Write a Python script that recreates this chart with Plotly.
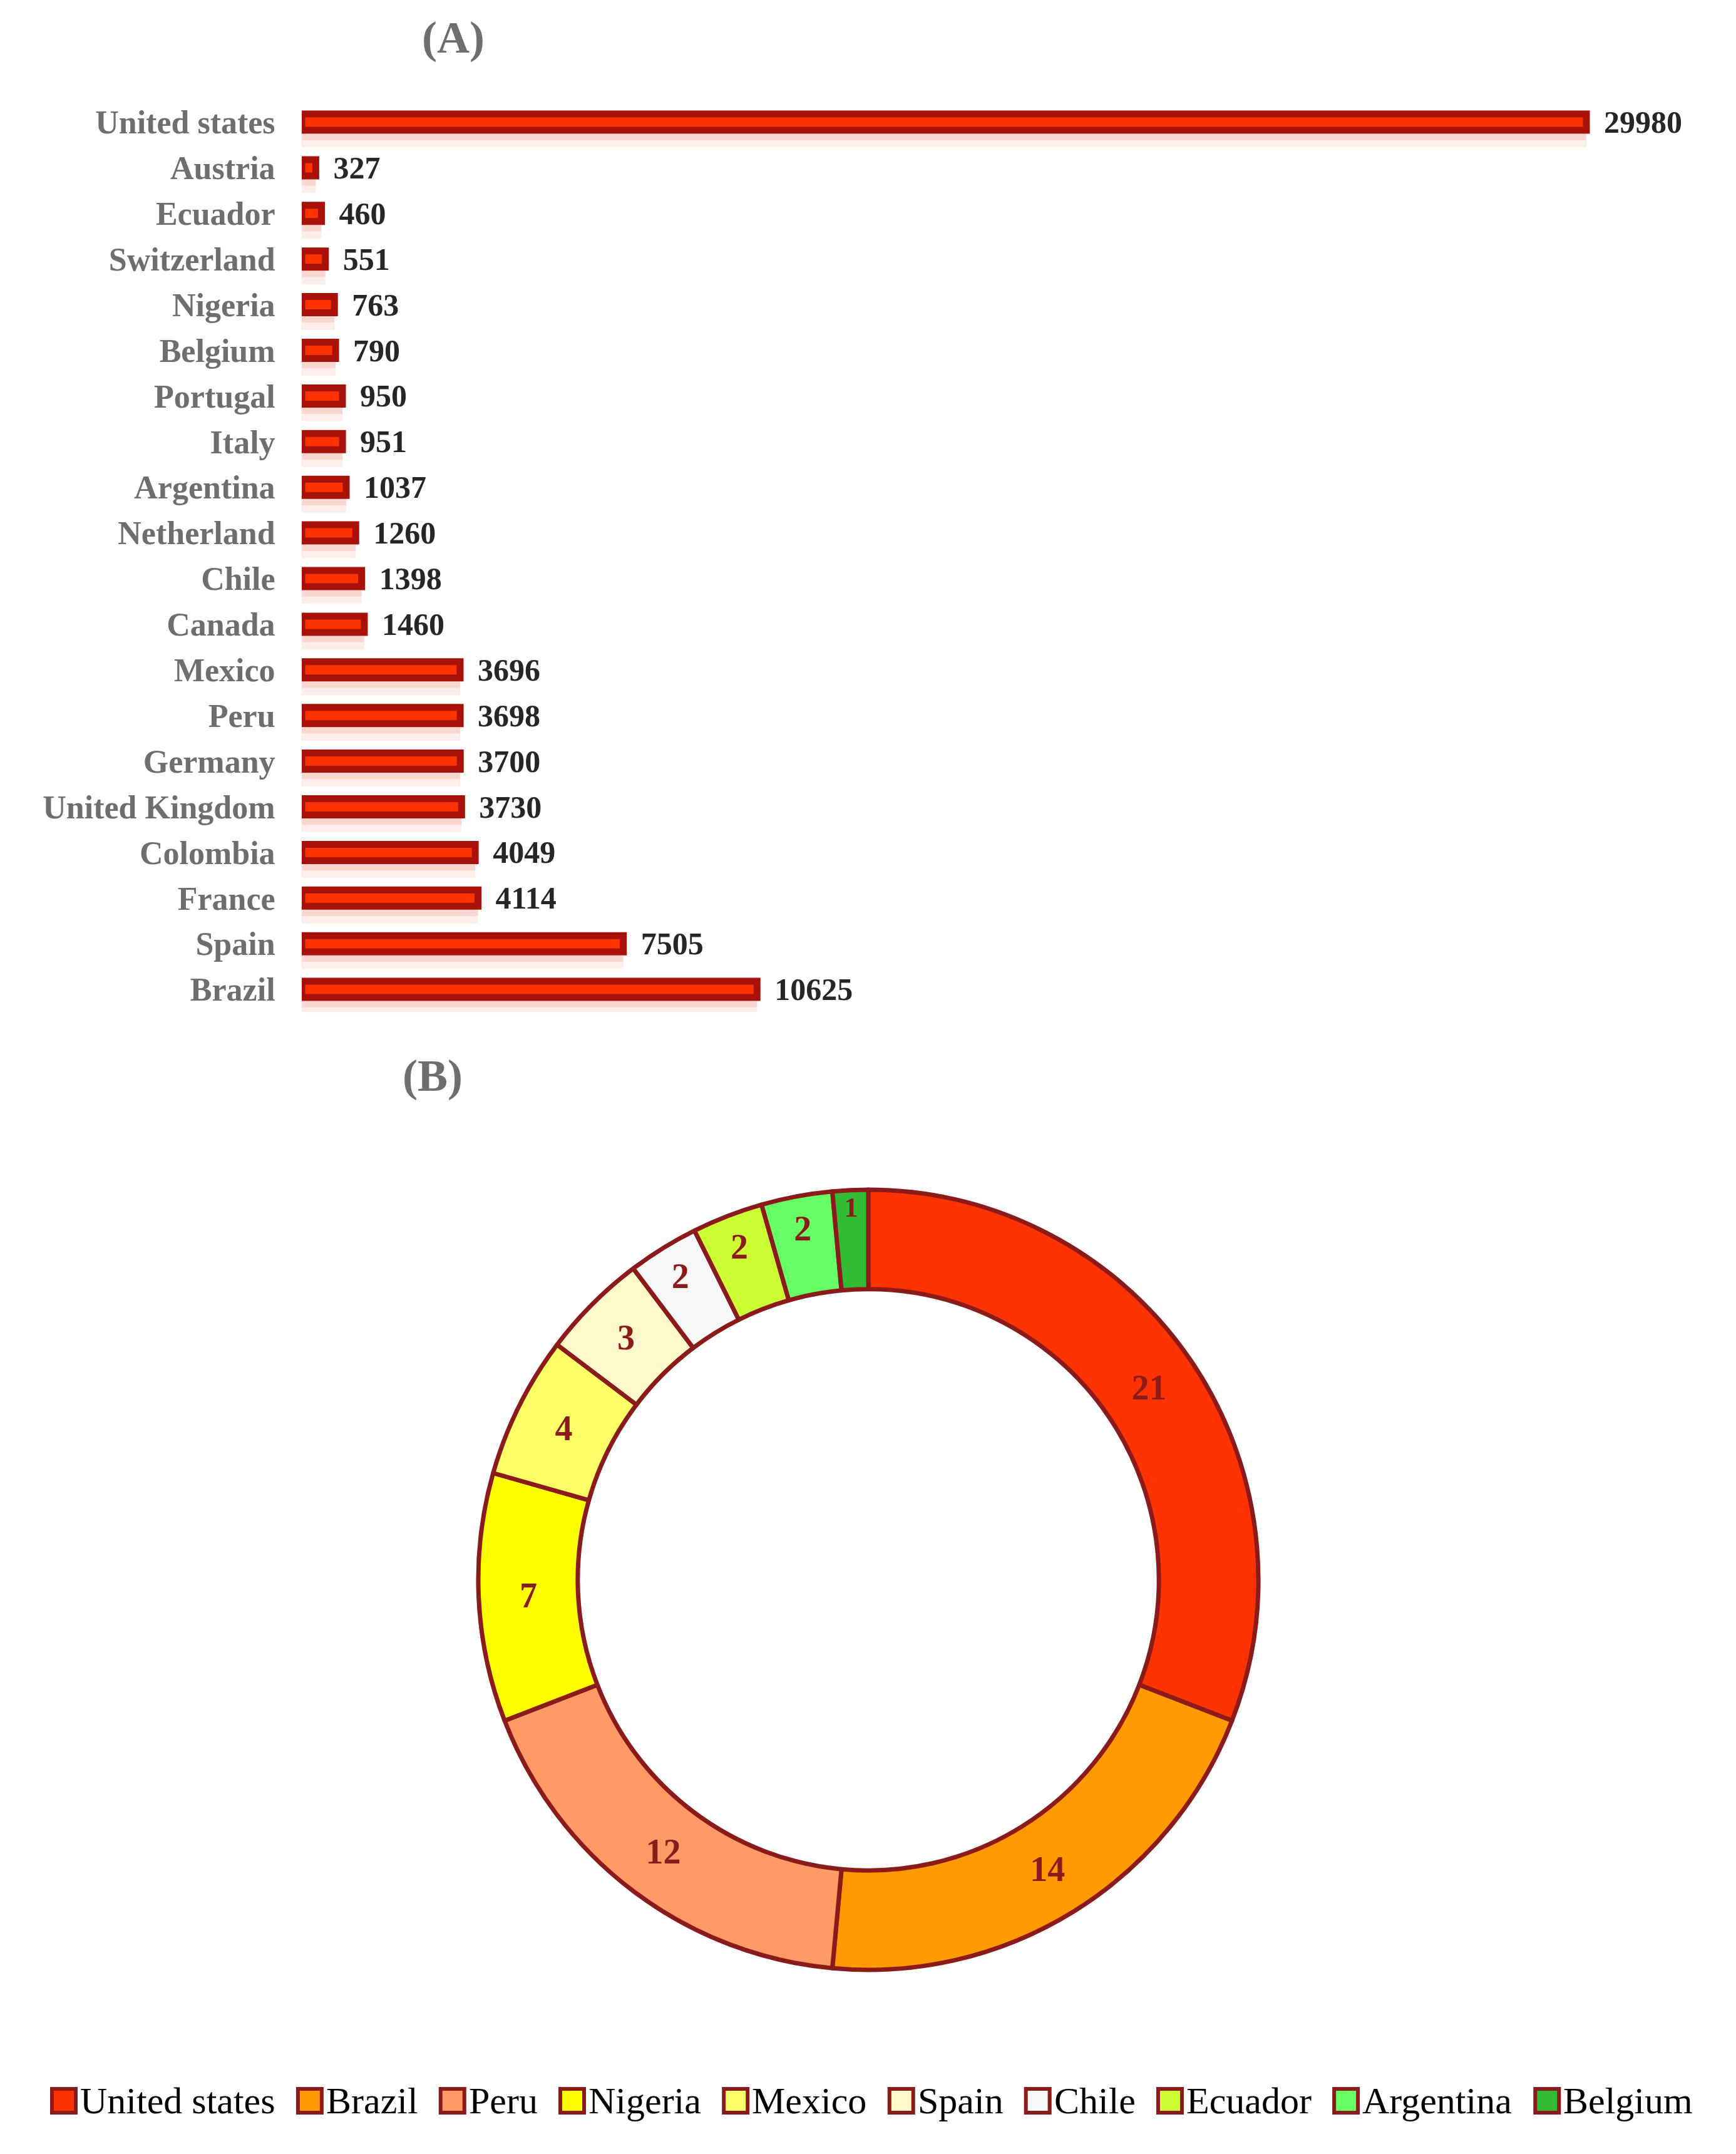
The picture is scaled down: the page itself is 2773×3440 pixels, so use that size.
import plotly.graph_objects as go

# ---------------- data ----------------
countries = ["United states", "Austria", "Ecuador", "Switzerland", "Nigeria", "Belgium",
             "Portugal", "Italy", "Argentina", "Netherland", "Chile", "Canada", "Mexico",
             "Peru", "Germany", "United Kingdom", "Colombia", "France", "Spain", "Brazil"]
counts = [29980, 327, 460, 551, 763, 790, 950, 951, 1037, 1260, 1398, 1460, 3696,
          3698, 3700, 3730, 4049, 4114, 7505, 10625]

pie_labels = ["United states", "Brazil", "Peru", "Nigeria", "Mexico", "Spain", "Chile",
              "Ecuador", "Argentina", "Belgium"]
pie_values = [21, 14, 12, 7, 4, 3, 2, 2, 2, 1]
pie_colors = ["#FF3300", "#FF9900", "#FF9966", "#FFFF00", "#FFFF66", "#FFF8CC", "#F7F7F7",
              "#CCFF33", "#66FF66", "#33BB33"]

# ---------------- layout helpers ----------------
W, H = 2773, 3440
SERIF = "Liberation Serif"
DARK_RED = "#8B1A1A"


def px(x):
    return x / W


def py(y):
    return 1 - y / H


# Times-Roman advance widths (1/1000 em) for legend layout
TW = {" ": 250, "A": 722, "B": 667, "C": 667, "E": 611, "M": 889, "N": 722, "P": 556,
      "S": 556, "U": 722, "a": 444, "c": 444, "d": 500, "e": 444, "g": 500, "h": 500,
      "i": 278, "l": 278, "m": 778, "n": 500, "o": 500, "p": 500, "r": 333, "s": 389,
      "t": 278, "u": 500, "x": 500, "z": 444, "y": 500}


def text_w(s, size):
    return sum(TW.get(c, 500) for c in s) / 1000 * size


fig = go.Figure()

# ---------------- (A) bar chart ----------------
row = 72.9           # px per category
bar_px = 26          # bar thickness (data)
line_w = 11
w_cat = bar_px / row
sh_off = (bar_px / 2 + line_w / 2) / row

# soft reflection under each bar
fig.add_trace(go.Bar(x=counts, y=countries, orientation="h", offset=sh_off, width=0.14,
                     marker=dict(color="rgba(240,120,100,0.30)", line=dict(width=0)),
                     hoverinfo="skip", cliponaxis=False, showlegend=False))
fig.add_trace(go.Bar(x=counts, y=countries, orientation="h", offset=sh_off + 0.14, width=0.16,
                     marker=dict(color="rgba(240,120,100,0.13)", line=dict(width=0)),
                     hoverinfo="skip", cliponaxis=False, showlegend=False))
# main bars
fig.add_trace(go.Bar(
    x=counts, y=countries, orientation="h", width=w_cat, offset=-w_cat / 2,
    marker=dict(color="#FF3300", line=dict(color="#A8100A", width=line_w)),
    text=["\u00a0\u00a0" + str(c) for c in counts], textposition="outside",
    constraintext="none", cliponaxis=False,
    textfont=dict(family=SERIF, size=50, color="#262626", weight="bold"),
    showlegend=False))

top_px, bot_px = 195 - row / 2, 195 + 19 * row + row / 2
fig.update_layout(
    barmode="overlay",
    xaxis=dict(domain=[px(482), px(482 + 32000 * (2534 - 482) / 29980)], range=[0, 32000],
               visible=False, fixedrange=True),
    yaxis=dict(domain=[py(bot_px), py(top_px)], type="category",
               categoryorder="array", categoryarray=countries, range=[19.5, -0.5],
               showgrid=False, zeroline=False, showline=False,
               ticks="outside", ticklen=31, tickcolor="rgba(0,0,0,0)",
               tickfont=dict(family=SERIF, size=52, color="#6E6E6E", weight="bold")),
)

# ---------------- (B) donut ----------------
cx, cy, R = 1387, 2523, 623
fig.add_trace(go.Pie(
    labels=pie_labels, values=pie_values, hole=0.745, sort=False,
    direction="clockwise", rotation=0,
    marker=dict(colors=pie_colors, line=dict(color=DARK_RED, width=7)),
    textinfo="value", textposition="inside", insidetextorientation="horizontal",
    textfont=dict(family=SERIF, size=56, color=DARK_RED, weight="bold"),
    domain=dict(x=[px(cx - R), px(cx + R)], y=[py(cy + R), py(cy - R)]),
    showlegend=False, hoverinfo="label+value"))

# ---------------- panel titles ----------------
for txt, x, y in [("(A)", 724, 60), ("(B)", 691, 1718)]:
    fig.add_annotation(x=px(x), y=py(y), xref="paper", yref="paper", text=txt,
                       showarrow=False, xanchor="center", yanchor="middle",
                       font=dict(family=SERIF, size=72, color="#6E6E6E", weight="bold"))

# ---------------- legend (drawn manually for large swatches) ----------------
leg_font = 60
leg_y = 3355
mk = 38
gap_mt = 6
x_start, x_end = 83, 2703
widths = [text_w(l, leg_font) for l in pie_labels]
G = (x_end - x_start - len(pie_labels) * (mk + gap_mt) - sum(widths)) / (len(pie_labels) - 1)
x = x_start
for lab, col, w in zip(pie_labels, pie_colors, widths):
    fig.add_shape(type="rect", xref="paper", yref="paper",
                  x0=px(x), x1=px(x + mk), y0=py(leg_y + mk / 2), y1=py(leg_y - mk / 2),
                  fillcolor=col, line=dict(color=DARK_RED, width=6))
    fig.add_annotation(x=px(x + mk + gap_mt), y=py(leg_y), xref="paper", yref="paper",
                       text=lab, showarrow=False, xanchor="left", yanchor="middle",
                       borderpad=0,
                       font=dict(family=SERIF, size=leg_font, color="#000000"))
    x += mk + gap_mt + w + G

fig.update_layout(width=W, height=H, margin=dict(l=0, r=0, t=0, b=0),
                  paper_bgcolor="white", plot_bgcolor="white", showlegend=False)

fig.write_html("out.html")
